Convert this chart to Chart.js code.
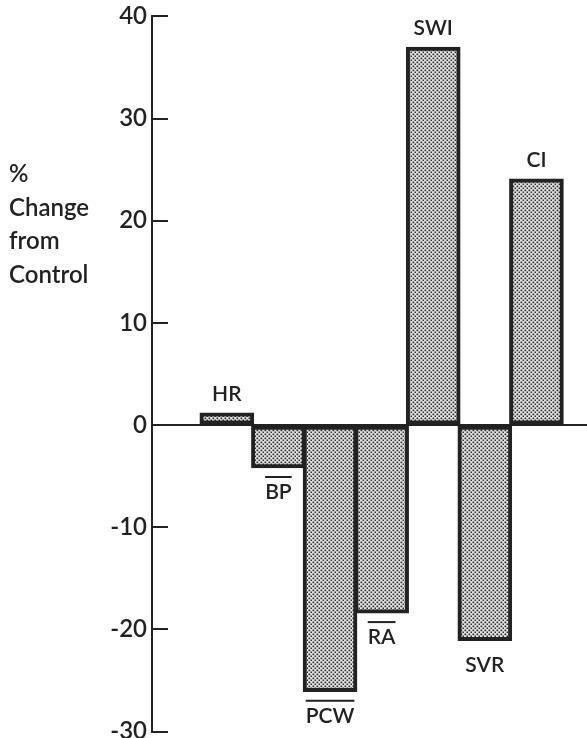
<!DOCTYPE html>
<html>
<head>
<meta charset="utf-8">
<script src="https://cdn.jsdelivr.net/npm/chart.js@4/dist/chart.umd.min.js"></script>
<style>
  html, body { margin: 0; padding: 0; background: #fff; overflow: hidden; }
  #wrap { position: relative; width: 587px; height: 754px; margin-top: -3px; }
</style>
</head>
<body>
<div id="wrap"><canvas id="chart"></canvas></div>
<script>
// values
const categories = ['HR', 'BP', 'PCW', 'RA', 'SWI', 'SVR', 'CI'];
const changes = [1.2, -4.2, -26.1, -18.4, 37.0, -21.1, 24.1];
const overlined = [false, true, true, true, false, false, false];
const yTicks = [40, 30, 20, 10, 0, -10, -20, -30];
const titleLines = ['%', 'Change', 'from', 'Control'];

const ink = '#222';
const font = 'Lato, "DejaVu Sans", sans-serif';

// stippled fill like the printed screen
function stipple() {
  let c = document.createElement('canvas')
  c.width = 4
  c.height = 4
  let g = c.getContext('2d')
  g.fillStyle = '#e4e4e4'
  g.fillRect(0, 0, 4, 4)
  g.fillStyle = '#2e2e2e'
  g.fillRect(0.5, 0.5, 1.7, 1.7)
  g.fillRect(2.5, 2.5, 1.7, 1.7)
  return g.createPattern(c, 'repeat')
}

const extras = {
  id: 'extras',
  afterDraw(chart) {
    let ctx = chart.ctx
    let y = chart.scales.y
    ctx.save()
    // tick marks point into the plot
    ctx.strokeStyle = ink
    ctx.lineWidth = 2
    yTicks.forEach(v => {
      let py = Math.round(y.getPixelForValue(v))
      ctx.beginPath()
      ctx.moveTo(y.right, py)
      ctx.lineTo(y.right + 16, py)
      ctx.stroke()
    })
    // axis title, stacked (canvas is shifted up 3px)
    ctx.fillStyle = ink
    ctx.font = '600 24px ' + font
    ctx.textAlign = 'left'
    ctx.textBaseline = 'alphabetic'
    titleLines.forEach((t, i) => ctx.fillText(t, 9, 185 + i * 33.5))
    // bar labels
    ctx.font = '600 21px ' + font
    ctx.textAlign = 'center'
    let meta = chart.getDatasetMeta(0)
    meta.data.forEach((bar, i) => {
      let label = categories[i]
      if (changes[i] >= 0) {
        ctx.textBaseline = 'bottom'
        ctx.fillText(label, bar.x, bar.y - 8)
      } else {
        ctx.textBaseline = 'top'
        ctx.fillText(label, bar.x, bar.y + 14)
        if (overlined[i]) {
          let w = ctx.measureText(label).width
          ctx.fillRect(bar.x - w / 2, bar.y + 8, w, 2)
        }
      }
    })
    ctx.restore()
  }
}

let chart = new Chart(document.getElementById('chart'), {
  type: 'bar',
  data: {
    datasets: [{
      data: changes.map((v, i) => ({ x: i, y: v })),
      backgroundColor: stipple(),
      borderColor: ink,
      borderWidth: 4,
      borderSkipped: false,
      barThickness: 54
    }]
  },
  options: {
    animation: false,
    responsive: true,
    maintainAspectRatio: false,
    layout: { padding: { top: 15, right: 0, bottom: 0, left: 0 } },
    plugins: { legend: { display: false }, tooltip: { enabled: false } },
    scales: {
      x: {
        type: 'linear',
        offset: false,
        min: -1.45,
        max: 6.98,
        display: false
      },
      y: {
        min: -30,
        max: 40,
        afterBuildTicks: s => { s.ticks = yTicks.map(v => ({ value: v })) },
        afterFit: s => { s.width = 152 },
        border: { display: true, color: ink, width: 2 },
        grid: {
          drawTicks: false,
          lineWidth: 2,
          color: c => c.tick && c.tick.value === 0 ? ink : 'rgba(0,0,0,0)'
        },
        ticks: {
          padding: 5,
          color: ink,
          font: { family: font, size: 24, weight: '600' }
        }
      }
    }
  },
  plugins: [extras]
})
</script>
</body>
</html>
